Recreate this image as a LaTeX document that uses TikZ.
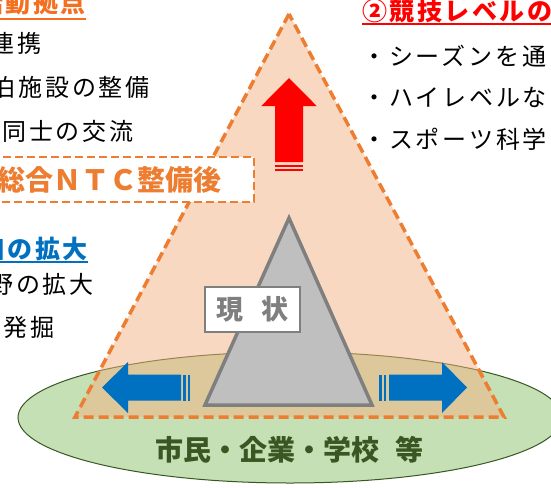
\documentclass[tikz,border=0pt]{standalone}
\usepackage{fontspec}
\usepackage{pgf,tikz}
\usepackage{tkz-euclide}
\usepackage{xcolor}
\usetikzlibrary{calc}

\newfontfamily\jp{Noto Sans CJK JP}
\newfontfamily\jpl[LetterSpace=12]{Noto Sans CJK JP}
\newfontfamily\jph[LetterSpace=10]{Noto Sans CJK JP}

\definecolor{peach}{HTML}{F4B183}
\definecolor{ntcorange}{HTML}{ED7D31}
\definecolor{headorange}{HTML}{F47020}
\definecolor{ground}{HTML}{C5E0B4}
\definecolor{groundline}{HTML}{385723}
\definecolor{nowfill}{HTML}{BFBFBF}
\definecolor{nowline}{HTML}{7F7F7F}
\definecolor{wideblue}{HTML}{0070C0}

\begin{document}
\begin{tikzpicture}[x=1pt,y=-1pt,
        body/.style={inner sep=0pt,font=\jpl\fontsize{24}{24}\selectfont},
        head/.style={inner sep=0pt,font=\jph\bfseries\fontsize{25}{25}\selectfont},
        uline/.style={line width=2pt}]
        \useasboundingbox (0,0) rectangle (551,487);
        \clip (0,0) rectangle (551,487);

        \tkzDefPoint(289,14){P_0}
        \tkzDefPoint(75,417){P_1}
        \tkzDefPoint(504,417){P_2}

        \tkzDefPoint(289,218){Q_0}
        \tkzDefPoint(205,405){Q_1}
        \tkzDefPoint(372,405){Q_2}

        % ground and the two pyramids
        \filldraw[fill=ground,draw=groundline,line width=1pt] (290,417.5) ellipse [x radius=272pt,y radius=65.5pt];
        \filldraw[fill=peach,fill opacity=.5,draw=ntcorange,line width=3.5pt,dash pattern=on 10pt off 5pt] (P_0)--(P_1)--(P_2)--cycle;
        \filldraw[fill=nowfill,draw=nowline,line width=3.5pt] (Q_0)--(Q_1)--(Q_2)--cycle;

        % striped arrows
        \fill[red] (275,162)--(275,106)--(261.3,106)--(289,78)--(316.7,106)--(303,106)--(303,162)--cycle;
        \fill[red] (275,165) rectangle (303,167);
        \fill[red] (275,168.7) rectangle (303,170.7);

        \fill[wideblue] (181,374.5)--(128,374.5)--(128,362)--(102,387.5)--(128,413)--(128,400.5)--(181,400.5)--cycle;
        \fill[wideblue] (183,374.5) rectangle (185.5,400.5);
        \fill[wideblue] (187.5,374.5) rectangle (190,400.5);

        \fill[wideblue] (389,374.5)--(442,374.5)--(442,362)--(467,387.5)--(442,413)--(442,400.5)--(389,400.5)--cycle;
        \fill[wideblue] (379.3,374.5) rectangle (381.7,400.5);
        \fill[wideblue] (383.5,374.5) rectangle (386,400.5);

        \node[draw=nowline,line width=2.5pt,fill=white,minimum width=95pt,minimum height=45pt,inner sep=0pt,
            text=nowline,font=\jp\bfseries\fontsize{27}{27}\selectfont] (G) at (252.5,309.5) {現\hspace{0.7em}状};

        \node[draw=ntcorange,line width=2.5pt,dash pattern=on 8pt off 4pt,fill=white,minimum height=45pt,
            inner xsep=32pt,inner ysep=0pt,anchor=east,text=ntcorange,
            font=\jp\bfseries\fontsize{28}{28}\selectfont] (N) at (255,179.5) {総合ＮＴＣ整備後};

        \node[text=groundline,inner sep=0pt,font=\jp\bfseries\fontsize{28}{28}\selectfont] (S) at (289.5,450) {市民・企業・学校\hspace{0.55em}等};

        % left column
        \node[head,text=headorange,anchor=base east] (A_0) at (86,13) {活動拠点};
        \draw[headorange,uline] ($(A_0.base west)+(0,6.5)$) -- ($(A_0.base east)+(0,6.5)$);
        \node[body,anchor=base east] (A_1) at (42,52.7) {連携};
        \node[body,anchor=base east] (A_2) at (150,96.7) {泊施設の整備};
        \node[body,anchor=base west] (A_3) at (2,140.7) {同士の交流};

        \node[head,text=wideblue,anchor=base east] (C_0) at (88,258.5) {口の拡大};
        \draw[wideblue,uline] ($(C_0.base west)+(0,3.5)$) -- ($(C_0.base east)+(0,3.5)$);
        \node[body,anchor=base east] (C_1) at (94,293.7) {野の拡大};
        \node[body,anchor=base west] (C_2) at (3,336) {発掘};

        % right column
        \node[head,text=red,anchor=base west] (B_0) at (362,20.5) {②競技レベルの};
        \draw[red,uline] ($(B_0.base west)+(0,4)$) -- ($(B_0.base east)+(0,4)$);
        \node[body,anchor=base west] (B_1) at (362,65.7) {・シーズンを通};
        \node[body,anchor=base west] (B_2) at (362,106.7) {・ハイレベルな};
        \node[body,anchor=base west] (B_3) at (362,148.7) {・スポーツ科学};
    \end{tikzpicture}
\end{document}
